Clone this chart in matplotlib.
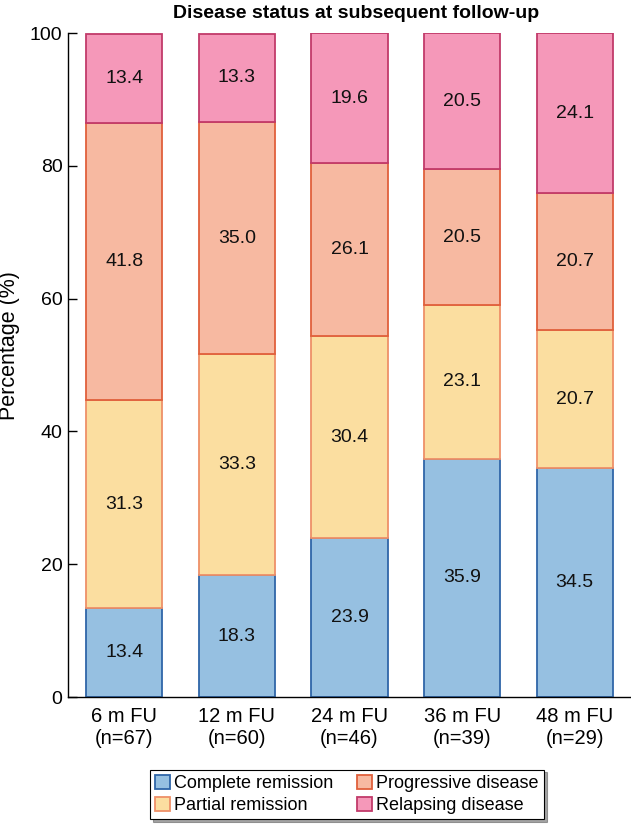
import numpy as np
import matplotlib.pyplot as plt

plt.rcParams['font.family'] = ['Liberation Sans', 'DejaVu Sans']

# Data
categories = ['6 m FU\n(n=67)', '12 m FU\n(n=60)', '24 m FU\n(n=46)', '36 m FU\n(n=39)', '48 m FU\n(n=29)']
complete_remission = [13.4, 18.3, 23.9, 35.9, 34.5]
partial_remission = [31.3, 33.3, 30.4, 23.1, 20.7]
progressive_disease = [41.8, 35.0, 26.1, 20.5, 20.7]
relapsing_disease = [13.4, 13.3, 19.6, 20.5, 24.1]

series = [
    ('Complete remission', complete_remission, '#96c0e1', '#2f66a8'),
    ('Partial remission', partial_remission, '#fbdea0', '#ee9068'),
    ('Progressive disease', progressive_disease, '#f7b9a1', '#e0603c'),
    ('Relapsing disease', relapsing_disease, '#f598b9', '#c23a6a'),
]

fig = plt.figure(figsize=(6.31, 8.26), dpi=100)
ax = fig.add_axes([68 / 631, 1 - 697 / 826, 1 - 68 / 631, (697 - 33) / 826])

x = np.arange(len(categories))
bottom = np.zeros(len(categories))
handles = []
for name, vals, fc, ec in series:
    vals = np.array(vals)
    bars = ax.bar(x, vals, width=0.675, bottom=bottom, color=fc, edgecolor=ec,
                  linewidth=1.3, label=name)
    handles.append(bars)
    for xi, b, v in zip(x, bottom, vals):
        ax.text(xi, b + v / 2, f'{v:.1f}', ha='center', va='center', fontsize=14, color='#111111')
    bottom += vals

ax.set_xlim(-0.5, 4.5)
ax.set_ylim(0, 100)
ax.set_yticks([0, 20, 40, 60, 80, 100])
ax.set_xticks(x)
ax.set_xticklabels(categories, fontsize=14.5, linespacing=1.25)
ax.tick_params(axis='y', direction='in', length=6.5, width=1, pad=4, labelsize=14)
ax.tick_params(axis='x', length=0, pad=7)
for s in ['top', 'right']:
    ax.spines[s].set_visible(False)
for s in ['left', 'bottom']:
    ax.spines[s].set_linewidth(1)

ax.set_ylabel('Percentage (%)', fontsize=15.5)
ax.yaxis.set_label_coords(-0.085, 0.53)

fig.text(356 / 631, 1 - 13 / 826, 'Disease status at subsequent follow-up',
         ha='center', va='center', fontsize=14, fontweight='bold')

leg = fig.legend(handles=handles, loc='center', bbox_to_anchor=(347 / 631, 1 - 794.5 / 826),
                 ncol=2, fontsize=13, frameon=True, fancybox=False, shadow=True,
                 handlelength=0.8, handleheight=0.8, handletextpad=0.25,
                 columnspacing=1.3, labelspacing=0.25, borderpad=0.3)
leg.get_frame().set_edgecolor('black')
leg.get_frame().set_linewidth(0.8)

fig.savefig('out.png', dpi=100)
